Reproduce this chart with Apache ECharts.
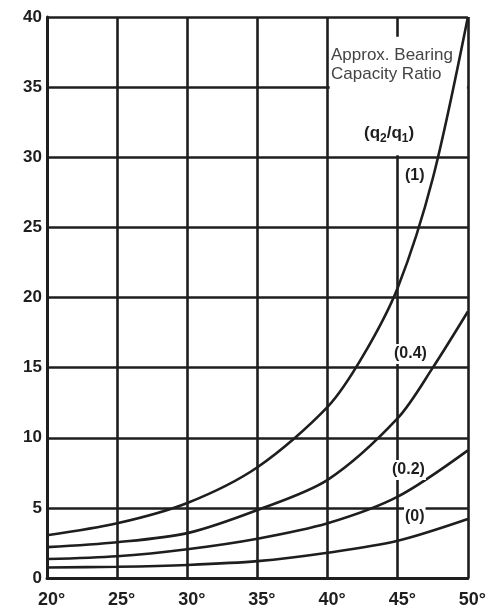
<!DOCTYPE html>
<html>
<head>
<meta charset="utf-8">
<script src="https://cdn.jsdelivr.net/npm/echarts@6/dist/echarts.min.js"></script>
<style>html,body{margin:0;padding:0;background:#fff;}#c{width:489px;height:616px;}</style>
</head>
<body>
<div id="c"></div>
<script>
// Data
var xTicks = [20, 25, 30, 35, 40, 45, 50];
var r1X   = [20, 25, 30, 35, 40, 42.5, 45, 47.5, 50];
var r1Y   = [3.05, 3.9, 5.35, 7.9, 12.2, 15.8, 20.7, 28.5, 40];
var r04X  = [20, 25, 30, 35, 40, 45, 47.5, 50];
var r04Y  = [2.2, 2.55, 3.2, 4.85, 7.0, 11.4, 15.0, 19.0];
var r02X  = [20, 25, 30, 35, 40, 45, 50];
var r02Y  = [1.35, 1.55, 2.05, 2.8, 3.9, 5.8, 9.1];
var r0X   = [20, 25, 30, 35, 40, 45, 50];
var r0Y   = [0.75, 0.8, 0.93, 1.2, 1.8, 2.65, 4.2];
var curveLabels = ['(1)', '(0.4)', '(0.2)', '(0)'];

function pairs(xs, ys) { return xs.map(function (x, i) { return [x, ys[i]]; }); }

var ink = '#1e1e1e';
var chart = echarts.init(document.getElementById('c'));
function curve(name, xs, ys) {
  return {
    name: name, type: 'line', smooth: 0.3, symbol: 'none', z: 3,
    lineStyle: { color: ink, width: 2.6 },
    data: pairs(xs, ys)
  };
}
var labelFont = { fontFamily: 'Liberation Sans Narrow, Liberation Sans, sans-serif', fontWeight: 'bold', fontSize: 16, fill: ink, backgroundColor: '#fff', padding: [2, 1, 2, 1] };
chart.setOption({
  animation: false,
  backgroundColor: '#fff',
  grid: { left: 47, right: 21, top: 17, bottom: 38, containLabel: false },
  xAxis: {
    type: 'value', min: 20, max: 50, interval: 5,
    axisLine: { show: true, lineStyle: { color: ink, width: 3 } },
    axisTick: { show: false },
    splitLine: { show: true, lineStyle: { color: ink, width: 2.6 } },
    axisLabel: {
      margin: 13, color: ink, fontSize: 18, fontWeight: 'bold',
      fontFamily: 'Liberation Sans Narrow, Liberation Sans, sans-serif',
      padding: [0, 0, 0, 9],
      formatter: function (v) { return v + '°'; }
    }
  },
  yAxis: {
    type: 'value', min: 0, max: 40, interval: 5,
    axisLine: { show: true, lineStyle: { color: ink, width: 3 } },
    axisTick: { show: false },
    splitLine: { show: true, lineStyle: { color: ink, width: 2.6 } },
    axisLabel: {
      margin: 5, color: ink, fontSize: 17, fontWeight: 'bold',
      fontFamily: 'Liberation Sans Narrow, Liberation Sans, sans-serif'
    }
  },
  series: [
    {
      type: 'line', data: [], z: 1, silent: true,
      markArea: {
        silent: true,
        itemStyle: { color: '#fff', opacity: 1 },
        data: [[{ coord: [40.15, 38.6] }, { coord: [49.93, 30.15] }]]
      }
    },
    curve(curveLabels[0], r1X, r1Y),
    curve(curveLabels[1], r04X, r04Y),
    curve(curveLabels[2], r02X, r02Y),
    curve(curveLabels[3], r0X, r0Y)
  ],
  graphic: [
    { type: 'text', left: 331, top: 47, z: 10, style: { text: 'Approx. Bearing', fontFamily: 'Liberation Sans, Arial, sans-serif', fontSize: 17, fill: '#444' } },
    { type: 'text', left: 331, top: 66, z: 10, style: { text: 'Capacity Ratio', fontFamily: 'Liberation Sans, Arial, sans-serif', fontSize: 17, fill: '#444' } },
    { type: 'text', left: 364, top: 125, z: 10, style: {
        text: '{a|(q}{s|2}{a|/q}{s|1}{a|)}',
        rich: {
          a: { fontFamily: 'Liberation Sans Narrow, Liberation Sans, sans-serif', fontWeight: 'bold', fontSize: 17, fill: ink },
          s: { fontFamily: 'Liberation Sans Narrow, Liberation Sans, sans-serif', fontWeight: 'bold', fontSize: 12, fill: ink, padding: [10, 0, 0, 0] }
        }
      } },
    { type: 'text', left: 404, top: 166, z: 10, style: Object.assign({ text: curveLabels[0] }, labelFont) },
    { type: 'text', left: 393, top: 344, z: 10, style: Object.assign({ text: curveLabels[1] }, labelFont) },
    { type: 'text', left: 391, top: 460, z: 10, style: Object.assign({ text: curveLabels[2] }, labelFont) },
    { type: 'text', left: 404, top: 507, z: 10, style: Object.assign({ text: curveLabels[3] }, labelFont) }
  ]
});
</script>
</body>
</html>
